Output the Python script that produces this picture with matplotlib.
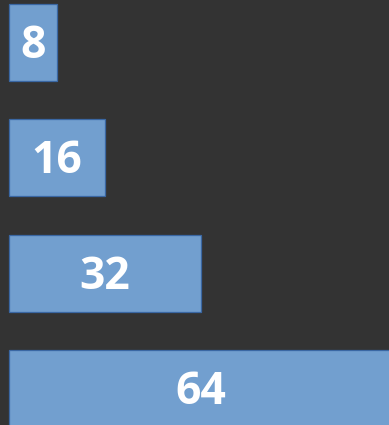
import matplotlib
matplotlib.use("Agg")
import matplotlib.pyplot as plt

values = [8, 16, 32, 64]
labels = ["8", "16", "32", "64"]

BG = "#333333"
FILL = "#729fcf"
EDGE = "#3a67a3"

fig = plt.figure(figsize=(3.89, 4.25), dpi=100, facecolor=BG)
ax = fig.add_axes([0, 0, 1, 1])
ax.set_facecolor(BG)

y = list(range(len(values)))
ax.barh(y, values, left=0, height=0.668, color=FILL, edgecolor=EDGE, linewidth=0.9)
for yi, v, lab in zip(y, values, labels):
    ax.text(v / 2, yi + 0.035, lab, ha="center", va="center", color="white",
            fontsize=32, fontweight="bold", family=["Open Sans", "DejaVu Sans"])

ax.set_xlim(-1.5, 63.33)
ax.set_ylim(3.317, -0.3686)
ax.axis("off")

fig.savefig("out.png", dpi=100, facecolor=BG)
